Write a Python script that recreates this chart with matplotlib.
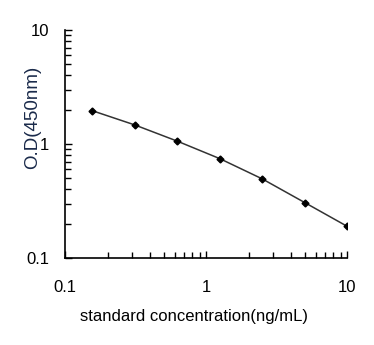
import matplotlib
matplotlib.use('Agg')
import matplotlib.pyplot as plt
from matplotlib.ticker import FixedLocator, FixedFormatter, LogLocator, NullFormatter

plt.rcParams['font.family'] = ['Liberation Sans', 'DejaVu Sans']

# standard curve
conc = [0.156, 0.3125, 0.625, 1.25, 2.5, 5, 10]
od = [1.96, 1.47, 1.06, 0.745, 0.495, 0.307, 0.19]

x_ticks = [0.1, 1, 10]
x_labels = ['0.1', '1', '10']
y_ticks = [0.1, 1, 10]
y_labels = ['0.1', '1', '10']

fig = plt.figure(figsize=(3.74, 3.45), dpi=100)
ax = fig.add_axes([0.174, 0.252, 0.754, 0.661])

ax.plot(conc, od, color='#333333', lw=1.1, marker='D', ms=3.5,
        mfc='black', mec='black')

ax.set_xscale('log')
ax.set_yscale('log')
ax.set_xlim(0.1, 10)
ax.set_ylim(0.1, 10)

ax.xaxis.set_major_locator(FixedLocator(x_ticks))
ax.xaxis.set_major_formatter(FixedFormatter(x_labels))
ax.yaxis.set_major_locator(FixedLocator(y_ticks))
ax.yaxis.set_major_formatter(FixedFormatter(y_labels))
ax.xaxis.set_minor_locator(LogLocator(base=10, subs=range(2, 10)))
ax.yaxis.set_minor_locator(LogLocator(base=10, subs=range(2, 10)))
ax.xaxis.set_minor_formatter(NullFormatter())
ax.yaxis.set_minor_formatter(NullFormatter())

ax.tick_params(which='both', direction='in', width=1, color='black',
               labelsize=12)
ax.tick_params(which='major', length=5)
ax.tick_params(which='minor', length=4)
ax.tick_params(axis='x', pad=16)
ax.tick_params(axis='y', pad=11.5)

for side in ['top', 'right']:
    ax.spines[side].set_visible(False)
for side in ['left', 'bottom']:
    ax.spines[side].set_linewidth(1.2)

ax.set_xlabel('standard concentration(ng/mL)', fontsize=12)
ax.xaxis.set_label_coords(0.457, -0.225)
ax.set_ylabel('O.D(450nm)', fontsize=13.5, color='#1a2a4a')
ax.yaxis.set_label_coords(-0.085, 0.618)

fig.savefig('out.png', dpi=100)
